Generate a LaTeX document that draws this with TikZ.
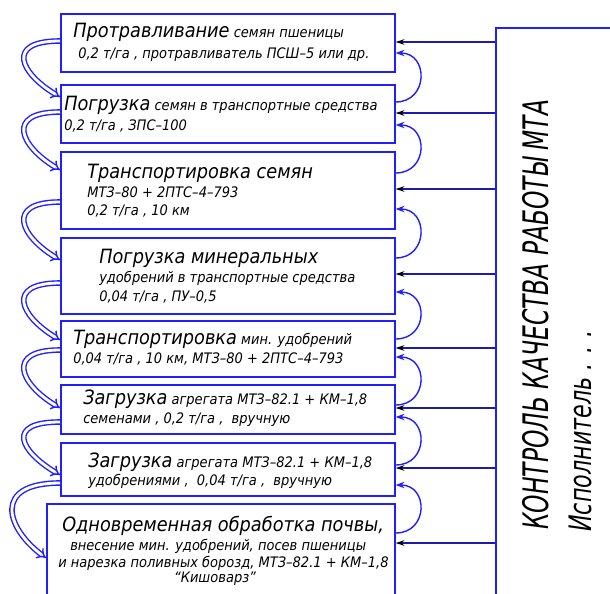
\documentclass[tikz,border=0pt]{standalone}
\usepackage{fontspec}
\setmainfont{DejaVu Sans Condensed}
\usepackage{tikz}
\usetikzlibrary{arrows.meta}
\definecolor{B0}{HTML}{1F1FFF}
\definecolor{B1}{HTML}{1C1CA8}
\newcommand{\opname}[1]{{\fontsize{14}{16}\selectfont #1}}

\begin{document}
\begin{tikzpicture}[x=0.025cm, y=-0.025cm,
  box/.style={draw=B0, line width=1.1pt, anchor=north west, inner sep=0pt},
  txt/.style={anchor=base west, inner sep=0pt, font=\fontsize{10.3}{12}\selectfont\itshape},
  vtxt/.style={anchor=base west, inner sep=0pt, rotate=90},
  flow/.style={draw=B0, double=white, double distance=2pt, line width=1pt, -{Implies}},
  back/.style={draw=B0, line width=1pt, -{Stealth[length=2.2mm, width=1.6mm]}},
  ctrl/.style={draw=B1, line width=0.9pt, -{Stealth[black, length=2.2mm, width=1.4mm]}}]
\useasboundingbox (0,0) rectangle (610,593);
\clip (0,0) rectangle (610,593);
% operations
\node[box, minimum width=8.35cm, minimum height=1.45cm] (p1) at (60,13) {};
\node[box, minimum width=8.35cm, minimum height=1.45cm] (p2) at (60,84) {};
\node[box, minimum width=8.35cm, minimum height=1.925cm] (p3) at (60,151) {};
\node[box, minimum width=8.35cm, minimum height=1.9cm] (p4) at (60,237) {};
\node[box, minimum width=8.35cm, minimum height=1.4cm] (p5) at (60,320) {};
\node[box, minimum width=8.35cm, minimum height=1.225cm] (p6) at (60,384) {};
\node[box, minimum width=8.35cm, minimum height=1.325cm] (p7) at (60,442) {};
\node[box, minimum width=8.7cm, minimum height=2.5cm] (p8) at (46,503) {};
% quality control
\node[box, minimum width=3cm, minimum height=15cm] (kontrol) at (495,27) {};
%
\node[txt] (t11) at (73,37) {\opname{Протравливание} семян пшеницы};
\node[txt] (t12) at (78,58) {0,2 т/га , протравливатель ПСШ–5 или др.};
\node[txt] (t21) at (64,110) {\opname{Погрузка} семян в транспортные средства};
\node[txt] (t22) at (64,130) {0,2 т/га , ЗПС–100};
\node[txt] (t31) at (87,178) {\opname{Транспортировка семян}};
\node[txt] (t32) at (87,197) {МТЗ–80 + 2ПТС–4–793};
\node[txt] (t33) at (87,215) {0,2 т/га , 10 км};
\node[txt] (t41) at (99,263) {\opname{Погрузка минеральных}};
\node[txt] (t42) at (99,282) {удобрений в транспортные средства};
\node[txt] (t43) at (99,301) {0,04 т/га , ПУ–0,5};
\node[txt] (t51) at (73,344) {\opname{Транспортировка} мин. удобрений};
\node[txt] (t52) at (73,363) {0,04 т/га , 10 км, МТЗ–80 + 2ПТС–4–793};
\node[txt] (t61) at (83,404) {\opname{Загрузка} агрегата МТЗ–82.1 + КМ–1,8};
\node[txt] (t62) at (83,423) {семенами , 0,2 т/га ,\ \ вручную};
\node[txt] (t71) at (88,467) {\opname{Загрузка} агрегата МТЗ–82.1 + КМ–1,8};
\node[txt] (t72) at (88,485) {удобрениями ,\ \ 0,04 т/га ,\ \ вручную};
\node[txt] (t81) at (62,531) {\opname{Одновременная обработка почвы,}};
\node[txt] (t82) at (70,550) {внесение мин. удобрений, посев пшеницы};
\node[txt] (t83) at (58,567) {и нарезка поливных борозд, МТЗ–82.1 + КМ–1,8};
\node[txt, anchor=base] (t84) at (215,582) {“Кишоварз”};
%
\node[vtxt, font=\fontsize{25}{28}\selectfont\itshape] (ktitle) at (548,530) {\scalebox{0.74}[1]{КОНТРОЛЬ КАЧЕСТВА РАБОТЫ МТА}};
\node[vtxt, font=\fontsize{22}{26}\selectfont\itshape] (kwho) at (591,532) {\scalebox{0.8}[1]{Исполнитель . . .}};
% sequence
\foreach \a/\b/\ya/\yb in {p1/p2/41/97, p2/p3/112/170, p3/p4/202/260, p4/p5/283/340, p5/p6/350/408, p6/p7/422/475}
  \draw[flow] (\a.west |- 0,\ya) .. controls +(-55,0) and +(-40,-24) .. (\b.west |- 0,\yb);
\draw[flow] (p7.west |- 0,483) .. controls +(-68,0) and +(-40,-30) .. (p8.west |- 0,558);
% feedback
\foreach \a/\b/\ya/\yb in {p1/p2/53/102, p2/p3/125/173, p3/p4/209/258, p4/p5/292/339, p5/p6/357/405, p6/p7/417/465, p7/p8/485/533}
  \draw[back] (\b.east |- 0,\yb) .. controls +(33,0) and +(33,0) .. (\a.east |- 0,\ya);
% control lines
\foreach \n/\y in {p1/42, p2/113, p3/189, p4/274, p5/348, p6/408, p7/468, p8/543}
  \draw[ctrl] (kontrol.west |- 0,\y) -- (\n.east |- 0,\y);
\end{tikzpicture}
\end{document}
